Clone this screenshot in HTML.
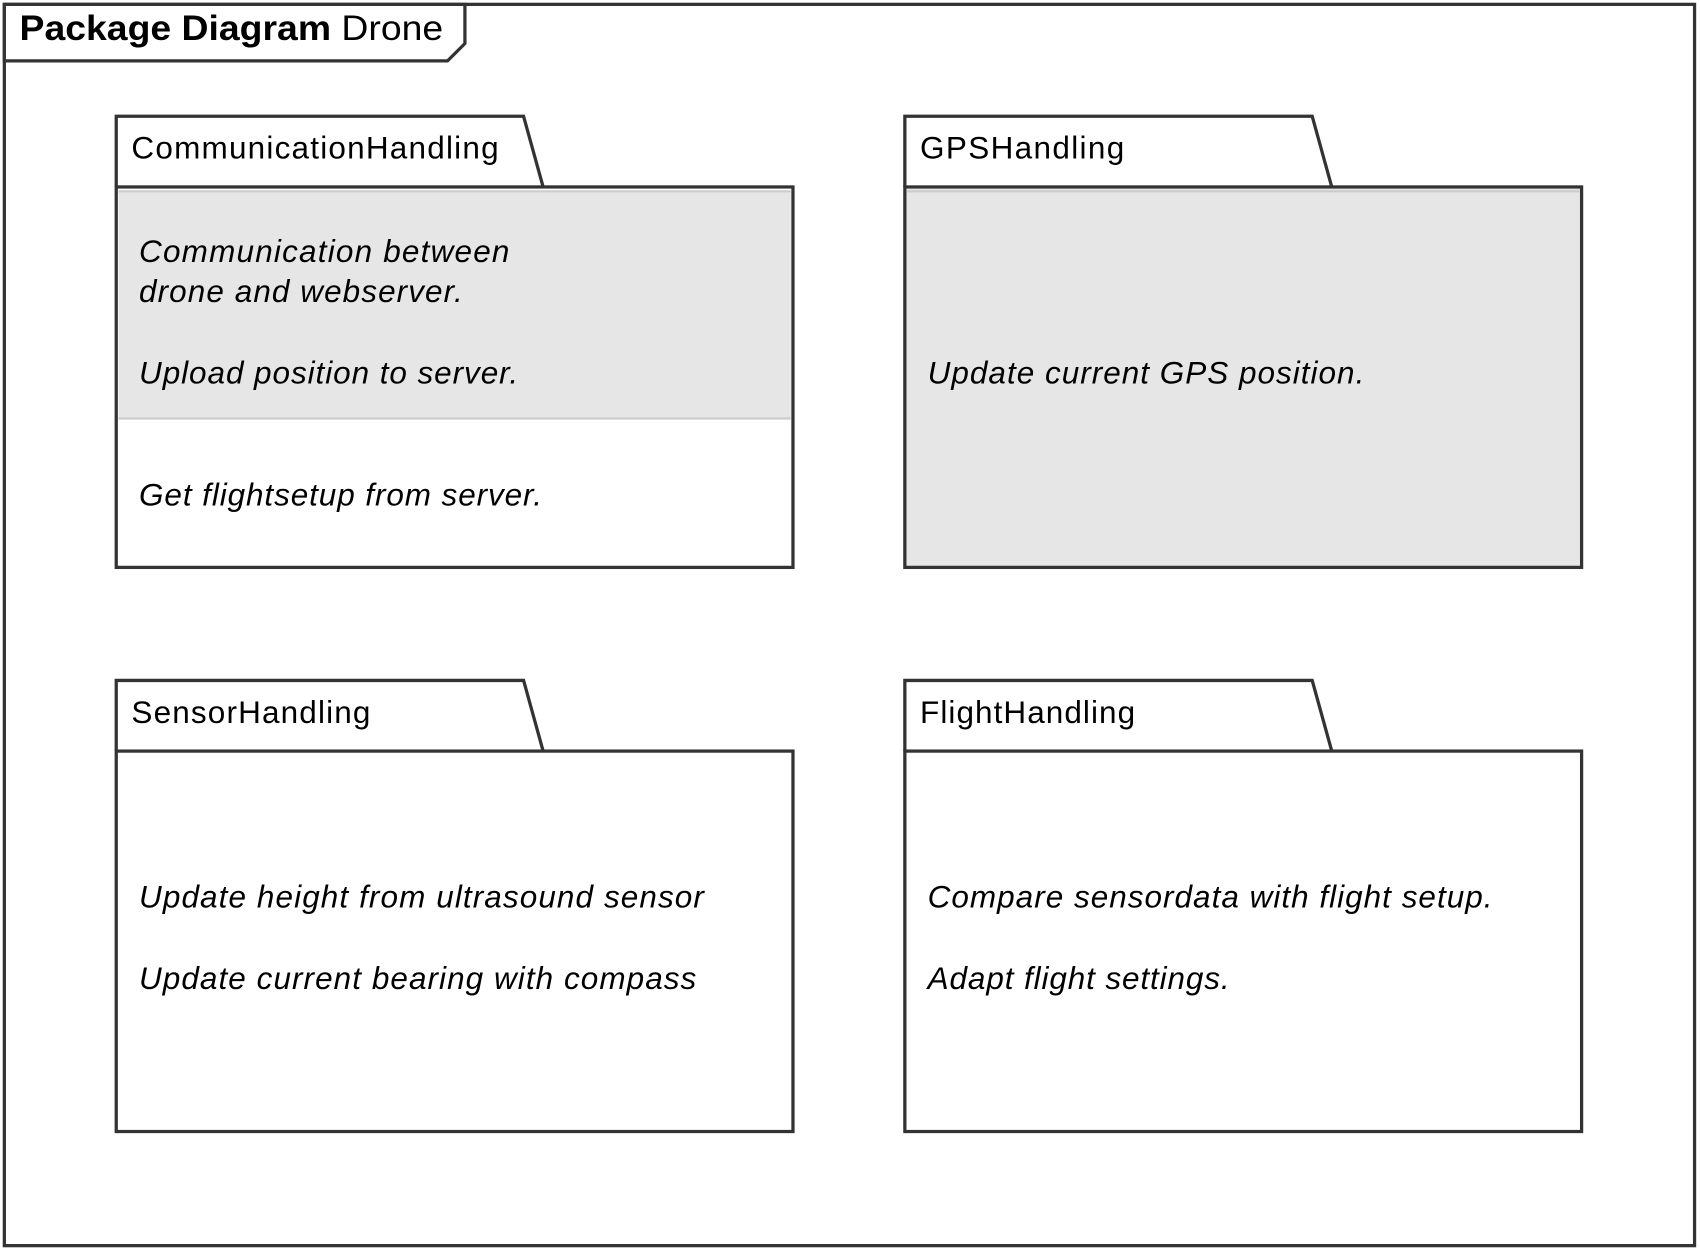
<!DOCTYPE html>
<html><head><style>html,body{margin:0;padding:0;background:#fff}svg{display:block}</style></head>
<body>
<svg width="1700" height="1250" viewBox="0 0 1565 1150" preserveAspectRatio="none" xmlns="http://www.w3.org/2000/svg" font-family="Liberation Sans, sans-serif">
<rect x="4" y="4" width="1556" height="1142" fill="#fff" stroke="#333" stroke-width="3"/>
<path d="M4 4 H428 V40 L412 56 H4 Z" fill="#fff" stroke="#333" stroke-width="3"/>
<text x="18" y="37" font-size="32" fill="#000" textLength="390" lengthAdjust="spacingAndGlyphs"><tspan font-weight="bold">Package Diagram</tspan> Drone</text>

<g stroke="#333" stroke-width="3">
<path d="M107 172 V107 H482 L500 172" fill="#fff"/>
<rect x="107" y="172" width="623" height="350" fill="#fff"/>
<rect x="109" y="176" width="619" height="209" fill="#e6e6e6" stroke="none"/>
<line x1="109" y1="385" x2="728" y2="385" stroke="#ccc" stroke-width="2"/>
<line x1="109" y1="176" x2="728" y2="176" stroke="#ccc" stroke-width="2"/>
<path d="M833 172 V107 H1208 L1226 172" fill="#fff"/>
<rect x="833" y="172" width="623" height="350" fill="#e6e6e6"/>
<line x1="835" y1="176" x2="1454" y2="176" stroke="#ccc" stroke-width="2"/>
<path d="M107 691 V626 H482 L500 691" fill="#fff"/>
<rect x="107" y="691" width="623" height="350" fill="#fff"/>
<path d="M833 691 V626 H1208 L1226 691" fill="#fff"/>
<rect x="833" y="691" width="623" height="350" fill="#fff"/>
</g>

<g font-size="29" fill="#000">
<text x="121" y="146" textLength="338">CommunicationHandling</text>
<text x="847" y="146" textLength="188">GPSHandling</text>
<text x="121" y="665" textLength="220">SensorHandling</text>
<text x="847" y="665" textLength="198">FlightHandling</text>
</g>
<g font-size="29" font-style="italic" fill="#000">
<text x="128" y="241" textLength="341">Communication between</text>
<text x="128" y="278" textLength="298">drone and webserver.</text>
<text x="128" y="353" textLength="349">Upload position to server.</text>
<text x="128" y="465" textLength="371">Get flightsetup from server.</text>
<text x="854" y="353" textLength="402">Update current GPS position.</text>
<text x="128" y="835" textLength="520">Update height from ultrasound sensor</text>
<text x="128" y="910" textLength="513">Update current bearing with compass</text>
<text x="854" y="835" textLength="520">Compare sensordata with flight setup.</text>
<text x="854" y="910" textLength="278">Adapt flight settings.</text>
</g>
</svg>
</body></html>
